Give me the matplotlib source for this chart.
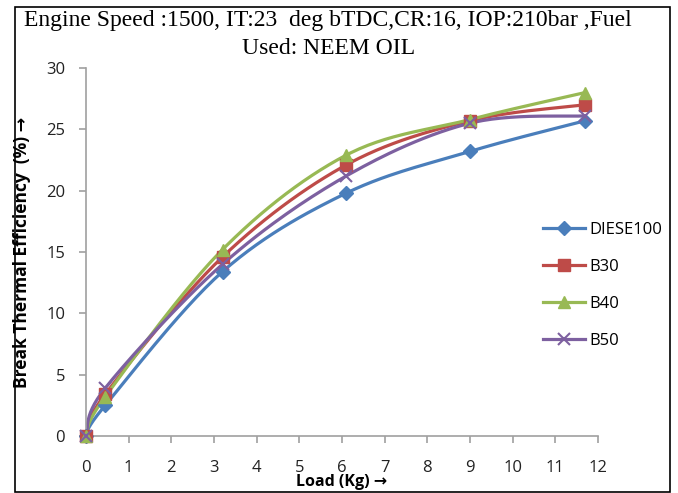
import numpy as np
import matplotlib
matplotlib.use("Agg")
import matplotlib.pyplot as plt
from matplotlib.patches import Rectangle

load = [0, 0.45, 3.2, 6.1, 9.0, 11.7]
diesel = [0, 2.5, 13.4, 19.8, 23.2, 25.7]
b30 = [0, 3.4, 14.6, 22.1, 25.7, 27.0]
b40 = [0, 3.2, 15.2, 22.9, 25.8, 28.0]
b50 = [0, 3.9, 14.0, 21.2, 25.5, 26.1]
labels = ["DIESE100", "B30", "B40", "B50"]
colors = ["#4A7EBB", "#BE4B48", "#98B954", "#7D60A0"]
markers = ["D", "s", "^", "x"]
title1 = "Engine Speed :1500, IT:23  deg bTDC,CR:16, IOP:210bar ,Fuel"
title2 = "Used: NEEM OIL"

FAM = ["Open Sans", "DejaVu Sans"]

W, H = 678, 493


def smooth(x, y, n=30):
    # Excel-like smoothed line through the points (Catmull-Rom style Bezier)
    x = np.asarray(x, float); y = np.asarray(y, float)
    P = np.column_stack([x, y])
    out = []
    for i in range(len(P) - 1):
        p0 = P[i - 1] if i > 0 else P[i]
        p1 = P[i]; p2 = P[i + 1]
        p3 = P[i + 2] if i + 2 < len(P) else P[i + 1]
        c1 = p1 + (p2 - p0) / 6.0
        c2 = p2 - (p3 - p1) / 6.0
        t = np.linspace(0, 1, n)[:, None]
        seg = (1 - t) ** 3 * p1 + 3 * (1 - t) ** 2 * t * c1 + 3 * (1 - t) * t ** 2 * c2 + t ** 3 * p2
        out.append(seg if i == 0 else seg[1:])
    s = np.vstack(out)
    return s[:, 0], s[:, 1]


fig = plt.figure(figsize=(W / 100, H / 100), dpi=100)
ax = fig.add_axes([86 / W, 1 - 436 / H, 512 / W, 368 / H])

series = [diesel, b30, b40, b50]
for vals, lab, c, m in zip(series, labels, colors, markers):
    sx, sy = smooth(load, vals)
    ax.plot(sx, sy, color=c, lw=2.3, zorder=2)
    kw = dict(markersize=9, mew=1.5) if m == "x" else dict(markersize=8.5 if m != "D" else 7)
    ax.plot(load, vals, linestyle="none", marker=m, color=c, zorder=3, clip_on=False, **kw)
    ax.plot([], [], color=c, lw=2.3, marker=m, label=lab, **kw)

ax.set_xlim(0, 12)
ax.set_ylim(0, 30)
ax.set_xticks(range(0, 13))
ax.set_yticks(range(0, 31, 5))
for s in ["top", "right"]:
    ax.spines[s].set_visible(False)
for s in ["left", "bottom"]:
    ax.spines[s].set_color("#A0A0A0")
    ax.spines[s].set_linewidth(1.2)
ax.tick_params(axis="both", direction="out", color="#A0A0A0", width=1.2, length=5,
               labelsize=12, labelcolor="#222222")
ax.tick_params(axis="x", pad=12)
ax.tick_params(axis="y", pad=10)
for t in ax.get_xticklabels() + ax.get_yticklabels():
    t.set_fontfamily(FAM)

ax.set_xlabel("Load (Kg) →", fontfamily=FAM, fontweight="bold", fontsize=11.5, labelpad=-1)
ax.set_ylabel("Break Thermal Efficiency  (%) →", fontfamily=FAM, fontweight="bold",
              fontsize=12.5)
ax.yaxis.set_label_coords(-0.108, 0.5)

fig.text(328 / W, 1 - 26 / H, title1, ha="center", va="baseline", fontfamily="Liberation Serif",
         fontsize=17)
fig.text(329 / W, 1 - 54 / H, title2, ha="center", va="baseline", fontfamily="Liberation Serif",
         fontsize=17)

leg = fig.legend(loc="upper left", bbox_to_anchor=(543 / W, 1 - 222 / H), frameon=False,
                 prop={"family": FAM, "size": 12}, labelspacing=1.25, borderpad=0,
                 borderaxespad=0, handlelength=2.5, handletextpad=0.3)

fig.patches.append(Rectangle((15 / W, 1 / H), 655 / W, 485 / H, transform=fig.transFigure,
                             fill=False, edgecolor="black", lw=1.2))

fig.savefig("out.png", dpi=100)
